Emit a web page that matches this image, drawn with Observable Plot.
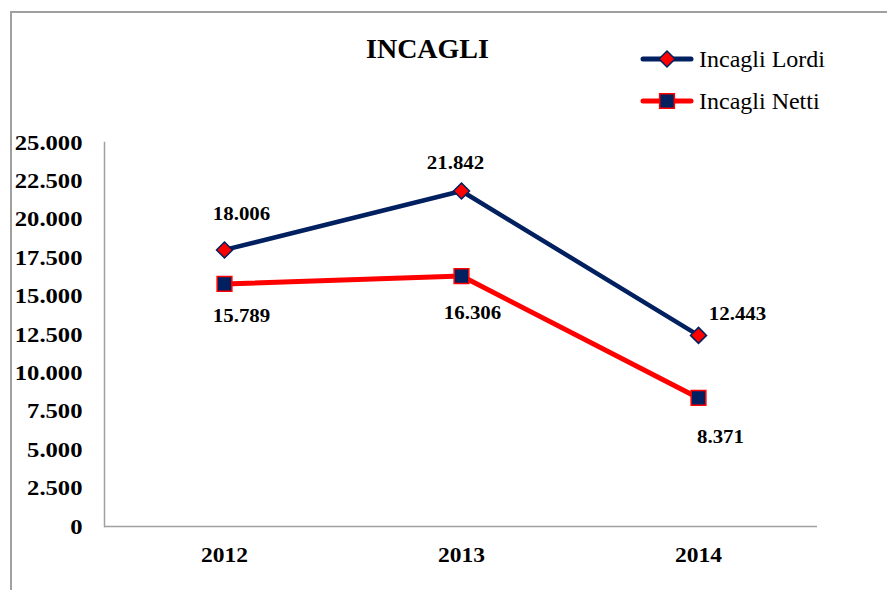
<!DOCTYPE html>
<html><head><meta charset="utf-8">
<script src="https://cdn.jsdelivr.net/npm/d3@7"></script>
<script src="https://cdn.jsdelivr.net/npm/@observablehq/plot@0.6"></script>
<style>
body{margin:0;background:#fff;}
#wrap{position:relative;width:887px;height:590px;overflow:hidden;background:#fff;}
#border{position:absolute;left:10px;top:11px;width:900px;height:600px;border-left:2px solid #a0a0a0;border-top:2px solid #a0a0a0;}
#chart{position:absolute;left:0;top:0;}
#overlay{position:absolute;left:0;top:0;}
</style></head><body>
<div id="wrap"><div id="border"></div><div id="chart"></div><svg id="overlay" width="887" height="140"></svg></div>
<script>
// ---- data ----
const years = ["2012", "2013", "2014"];
const lordi = [18006, 21842, 12443];
const netti = [15789, 16306, 8371];
const seriesNames = ["Incagli Lordi", "Incagli Netti"];
const yTicks = [0, 2500, 5000, 7500, 10000, 12500, 15000, 17500, 20000, 22500, 25000];
const title = "INCAGLI";

// ---- styling (label offsets in px relative to marker) ----
const navy = "#002060", red = "#ff0000", axisGray = "#a0a0a0";
const lordiLabelOffsets = [[17, -36], [-6, -28], [39, -21]];
const nettiLabelOffsets = [[17, 32], [11, 37], [22, 39]];

const fmt = d3.formatLocale({decimal: ",", thousands: ".", grouping: [3], currency: ["", "€"]}).format(",d");
const lordiRows = years.map((yr, i) => ({year: yr, value: lordi[i], series: seriesNames[0]}));
const nettiRows = years.map((yr, i) => ({year: yr, value: netti[i], series: seriesNames[1]}));

const numFont = {fontFamily: "Liberation Serif", fontWeight: "bold", fill: "black"};
const labelMarks = [];
lordiRows.forEach((r, i) => labelMarks.push(Plot.text([r], {x: "year", y: "value", text: d => fmt(d.value), dx: lordiLabelOffsets[i][0], dy: lordiLabelOffsets[i][1], fontSize: 19, ...numFont})));
nettiRows.forEach((r, i) => labelMarks.push(Plot.text([r], {x: "year", y: "value", text: d => fmt(d.value), dx: nettiLabelOffsets[i][0], dy: nettiLabelOffsets[i][1], fontSize: 19, ...numFont})));

const chart = Plot.plot({
  width: 887, height: 590,
  marginLeft: 104, marginRight: 70, marginTop: 142, marginBottom: 64,
  style: {background: "transparent", overflow: "visible"},
  x: {type: "point", domain: years, padding: 0.5, label: null},
  y: {domain: [0, 25000], label: null},
  marks: [
    Plot.axisY({ticks: yTicks, tickFormat: fmt, tickSize: 0, tickPadding: 22, fontSize: 22, label: null, ...numFont}),
    Plot.axisX({tickSize: 0, tickPadding: 21, fontSize: 21, label: null, ...numFont}),
    Plot.frame({anchor: "left", stroke: axisGray, strokeWidth: 1.5}),
    Plot.ruleY([0], {stroke: axisGray, strokeWidth: 1.5}),
    Plot.line(lordiRows, {x: "year", y: "value", stroke: navy, strokeWidth: 4.5}),
    Plot.line(nettiRows, {x: "year", y: "value", stroke: red, strokeWidth: 5}),
    Plot.dot(lordiRows, {x: "year", y: "value", symbol: "diamond2", r: 7.2, fill: red, stroke: navy, strokeWidth: 1.5}),
    Plot.dot(nettiRows, {x: "year", y: "value", symbol: "square", r: 8.3, fill: navy, stroke: red, strokeWidth: 1.5}),
    ...labelMarks
  ]
});
document.getElementById("chart").appendChild(chart);

// widen the bold numerals horizontally (the reference's numerals are stretched)
function stretch(selector, s, anchor) {
  chart.querySelectorAll(selector).forEach(t => {
    const b = t.getBBox();
    const ax = anchor === "end" ? b.x + b.width : b.x + b.width / 2;
    const prev = t.getAttribute("transform") || "";
    t.setAttribute("transform", `${prev} translate(${ax},0) scale(${s},1) translate(${-ax},0)`);
  });
}
stretch('g[aria-label="y-axis tick label"] text', 1.12, "end");
stretch('g[aria-label="x-axis tick label"] text', 1.12, "middle");
stretch('g[aria-label="text"] text', 1.1, "middle");

// ---- title & legend overlay ----
const ov = d3.select("#overlay");
ov.append("text").attr("x", 427.5).attr("y", 58).attr("text-anchor", "middle")
  .attr("font-family", "Liberation Serif").attr("font-weight", "bold").attr("font-size", 28).text(title);
const legendItems = [
  {name: seriesNames[0], line: navy, sym: d3.symbolDiamond2, r: 7.2, fill: red, stroke: navy, y: 59},
  {name: seriesNames[1], line: red, sym: d3.symbolSquare, r: 8.3, fill: navy, stroke: red, y: 101}
];
legendItems.forEach(it => {
  const g = ov.append("g");
  g.append("line").attr("x1", 643).attr("x2", 691).attr("y1", it.y).attr("y2", it.y)
    .attr("stroke", it.line).attr("stroke-width", 5).attr("stroke-linecap", "round");
  g.append("path").attr("transform", `translate(667,${it.y})`)
    .attr("d", d3.symbol(it.sym, Math.PI * it.r * it.r)())
    .attr("fill", it.fill).attr("stroke", it.stroke).attr("stroke-width", 1.5);
  g.append("text").attr("x", 699).attr("y", it.y + 7.5)
    .attr("font-family", "Liberation Serif").attr("font-size", 24).text(it.name);
});
</script>
</body></html>
